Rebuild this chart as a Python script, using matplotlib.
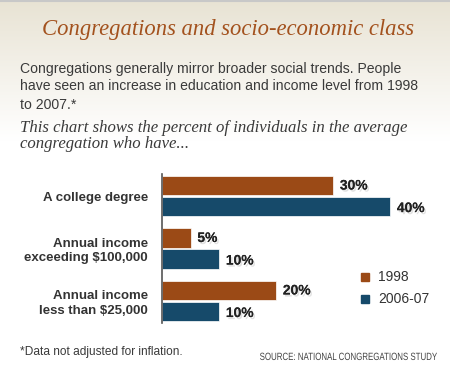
import matplotlib.pyplot as plt
import matplotlib.patheffects as pe
from matplotlib.textpath import TextPath
from matplotlib.patches import PathPatch
from matplotlib.font_manager import FontProperties
from matplotlib.transforms import Affine2D
import numpy as np

# data
categories = ["A college degree", "Annual income\nexceeding $100,000", "Annual income\nless than $25,000"]
years = ["1998", "2006-07"]
values_1998 = [30, 5, 20]
values_2007 = [40, 10, 10]
colors = ["#9b4a16", "#164a6a"]

W, H = 450, 369
fig = plt.figure(figsize=(W / 100, H / 100), dpi=100)

# background gradient
bg = fig.add_axes([0, 0, 1, 1])
grad = np.linspace(0, 1, 256).reshape(-1, 1)
top = np.array([0.91, 0.89, 0.83])
white = np.array([1.0, 1.0, 1.0])
mix = np.clip(grad / 0.38, 0, 1)
img = top * (1 - mix[..., None]) + white * mix[..., None]
img = np.repeat(img, 2, axis=1)
bg.imshow(img, aspect="auto", extent=[0, W, H, 0])
bg.plot([0, W], [0.5, 0.5], color="#c8c8c8", lw=1.5)
bg.set_xlim(0, W)
bg.set_ylim(H, 0)
bg.axis("off")

def px(x, y):
    return x / W, 1 - y / H

fig.text(*px(228, 30), "Congregations and socio-economic class", ha="center", va="center",
         fontsize=16.3, style="italic", family="Liberation Serif", color="#a3521e")

para = ["Congregations generally mirror broader social trends. People",
        "have seen an increase in education and income level from 1998",
        "to 2007.*"]
for txt, y in zip(para, [69, 86, 105]):
    fig.text(*px(20, y), txt, ha="left", va="center", fontsize=10.1, family="Liberation Sans",
             color="#3a3a3a")

intro = ["This chart shows the percent of individuals in the average",
         "congregation who have..."]
for txt, y in zip(intro, [128, 144]):
    fig.text(*px(20, y), txt, ha="left", va="center", fontsize=12.1, style="italic",
             family="Liberation Serif", color="#3a3a3a")

# bar chart
ax = fig.add_axes([162 / W, 1 - 323 / H, 1 - 162 / W, (323 - 174) / H])
ax.patch.set_alpha(0)
pos = np.arange(len(categories))
bh = 0.37
off = 0.2
ax.barh(pos - off, values_1998, height=bh, color=colors[0], edgecolor="white", lw=0.5)
ax.barh(pos + off, values_2007, height=bh, color=colors[1], edgecolor="white", lw=0.5)
ax.set_xlim(0, 288 / 5.7)
ax.set_ylim(2.42, -0.42)
for s in ["top", "right", "bottom"]:
    ax.spines[s].set_visible(False)
ax.spines["left"].set_color("#555555")
ax.spines["left"].set_linewidth(1.2)
ax.set_xticks([])
ax.set_yticks(pos)
ax.set_yticklabels(categories, fontsize=9.5, fontweight="bold", family="Liberation Sans",
                   color="#333333", linespacing=1.25)
ax.tick_params(axis="y", length=0, pad=10)

shadow = [pe.withSimplePatchShadow(offset=(1.2, -1.5), shadow_rgbFace="#aaaaaa", alpha=0.35),
          pe.Normal()]
for p, v in zip(pos, values_1998):
    ax.text(v + 1.2, p - off, f"{v}%", va="center", ha="left", fontsize=10,
            fontweight="bold", family="Liberation Sans", color="#222222", path_effects=shadow)
for p, v in zip(pos, values_2007):
    ax.text(v + 1.2, p + off + 0.03, f"{v}%", va="center", ha="left", fontsize=10,
            fontweight="bold", family="Liberation Sans", color="#222222", path_effects=shadow)

# legend
for i, (lab, y) in enumerate(zip(years, [277, 299])):
    bg.add_patch(plt.Rectangle((361, y - 4), 8, 8, color=colors[i]))
    bg.text(378, y, lab, ha="left", va="center", fontsize=10, family="Liberation Sans",
            color="#333333")

fig.text(*px(20, 352), "*Data not adjusted for inflation.", ha="left", va="center",
         fontsize=8.6, family="Liberation Sans", color="#3a3a3a")

# condensed source line drawn as a horizontally squeezed text path
src = "SOURCE: NATIONAL CONGREGATIONS STUDY"
tp = TextPath((0, 0), src, size=10.5, prop=FontProperties(family="Liberation Sans"))
ext = tp.get_extents()
sx = 177 / ext.width
path = Affine2D().translate(-ext.x1, 0).scale(sx, -1).translate(437, 360).transform_path(tp)
bg.add_patch(PathPatch(path, facecolor="#444444", edgecolor="none"))

fig.savefig("out.png", dpi=100)
